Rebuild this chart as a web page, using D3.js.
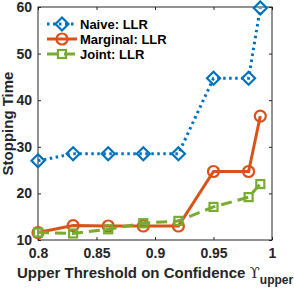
<!DOCTYPE html>
<html>
<head>
<meta charset="utf-8">
<script src="https://cdn.jsdelivr.net/npm/d3@7"></script>
<style>
  body { margin: 0; background: #fff; }
  svg { display: block; font-family: "Liberation Sans", Arial, sans-serif; font-weight: bold; }
</style>
</head>
<body>
<div id="chart"></div>
<script>
// thresholds on x
const thresholds = [0.8, 0.83, 0.86, 0.89, 0.92, 0.95, 0.98, 0.99];
const naive = [27.0, 28.5, 28.5, 28.5, 28.5, 44.7, 44.7, 59.8];
const marginal = [11.6, 13.1, 13.0, 13.0, 13.0, 24.7, 24.7, 36.6];
const joint = [11.6, 11.4, 12.3, 13.6, 14.1, 17.1, 19.2, 22.0];
const xTicks = [0.8, 0.85, 0.9, 0.95, 1];
const yTicks = [10, 20, 30, 40, 50, 60];

const seriesNames = ['Naive: LLR', 'Marginal: LLR', 'Joint: LLR'];
const colors = ['#0072BD', '#D95319', '#77AC30'];

const W = 294, H = 289;
const m = {top: 7, right: 22, bottom: 49, left: 38};

const svg = d3.select('#chart').append('svg')
  .attr('width', W)
  .attr('height', H);

const x = d3.scaleLinear().domain([0.8, 1]).range([m.left, W - m.right]);
const y = d3.scaleLinear().domain([10, 60]).range([H - m.bottom, m.top]);

// box + inward ticks
const axisColor = '#262626';
const tickLen = 3;

svg.append('g')
  .attr('transform', `translate(0,${H - m.bottom})`)
  .call(d3.axisBottom(x).tickValues(xTicks).tickSizeInner(-tickLen).tickSizeOuter(0).tickPadding(8)
    .tickFormat(d => d3.format('')(d)))
  .call(g => g.select('.domain').remove());

svg.append('g')
  .attr('transform', `translate(0,${m.top})`)
  .call(d3.axisTop(x).tickValues(xTicks).tickSizeInner(-tickLen).tickSizeOuter(0).tickFormat(''))
  .call(g => g.select('.domain').remove());

svg.append('g')
  .attr('transform', `translate(${m.left},0)`)
  .call(d3.axisLeft(y).tickValues(yTicks).tickSizeInner(-tickLen).tickSizeOuter(0).tickPadding(6))
  .call(g => g.select('.domain').remove());

svg.append('g')
  .attr('transform', `translate(${W - m.right},0)`)
  .call(d3.axisRight(y).tickValues(yTicks).tickSizeInner(-tickLen).tickSizeOuter(0).tickFormat(''))
  .call(g => g.select('.domain').remove());

svg.selectAll('.tick line').attr('stroke', axisColor);
svg.selectAll('.tick text')
  .attr('fill', axisColor)
  .style('font-size', '14px')
  .style('font-weight', 'bold')
  .style('font-family', '"Liberation Sans", Arial, sans-serif');

svg.append('rect')
  .attr('x', m.left)
  .attr('y', m.top)
  .attr('width', W - m.left - m.right)
  .attr('height', H - m.top - m.bottom)
  .attr('fill', 'none')
  .attr('stroke', axisColor)
  .attr('stroke-width', 1);

// lines
const line = d3.line()
  .x((d, i) => x(thresholds[i]))
  .y(d => y(d));

const series = [
  {name: seriesNames[0], values: naive, color: colors[0], dash: '2.5,3.5', cap: 'butt', marker: 'diamond'},
  {name: seriesNames[1], values: marginal, color: colors[1], dash: null, cap: 'butt', marker: 'circle'},
  {name: seriesNames[2], values: joint, color: colors[2], dash: '11,6', cap: 'butt', marker: 'square'}
];

function drawMarker(g, type, cx, cy, color) {
  if (type === 'diamond') {
    const s = 6.5;
    g.append('path')
      .attr('d', `M${cx},${cy - s}L${cx + s},${cy}L${cx},${cy + s}L${cx - s},${cy}Z`)
      .attr('fill', 'none').attr('stroke', color).attr('stroke-width', 2.2);
  } else if (type === 'circle') {
    g.append('circle')
      .attr('cx', cx).attr('cy', cy).attr('r', 5.5)
      .attr('fill', 'none').attr('stroke', color).attr('stroke-width', 2.2);
  } else {
    const s = 4;
    g.append('rect')
      .attr('x', cx - s).attr('y', cy - s).attr('width', 2 * s).attr('height', 2 * s)
      .attr('fill', 'none').attr('stroke', color).attr('stroke-width', 2.2);
  }
}

series.forEach(s => {
  const g = svg.append('g');
  g.append('path')
    .datum(s.values)
    .attr('d', line)
    .attr('fill', 'none')
    .attr('stroke', s.color)
    .attr('stroke-width', 3)
    .attr('stroke-linecap', s.cap)
    .attr('stroke-dasharray', s.dash);
  s.values.forEach((v, i) => drawMarker(g, s.marker, x(thresholds[i]), y(v), s.color));
});

// legend
const legend = svg.append('g').attr('transform', 'translate(47,24)');
series.forEach((s, i) => {
  const row = legend.append('g').attr('transform', `translate(0,${i * 15})`);
  row.append('line')
    .attr('x1', 0).attr('x2', 30).attr('y1', 0).attr('y2', 0)
    .attr('stroke', s.color).attr('stroke-width', 3)
    .attr('stroke-dasharray', s.dash);
  drawMarker(row, s.marker, 15, 0, s.color);
  row.append('text')
    .attr('x', 33).attr('y', 0).attr('dy', '0.35em')
    .style('font-size', '13px')
    .attr('fill', '#000')
    .text(s.name);
});

// axis labels
svg.append('text')
  .attr('transform', `translate(13,${(m.top + H - m.bottom) / 2}) rotate(-90)`)
  .attr('text-anchor', 'middle')
  .style('font-size', '15px')
  .attr('fill', axisColor)
  .text('Stopping Time');

const xl = svg.append('text')
  .attr('x', 17)
  .attr('y', 278)
  .style('font-size', '15px')
  .attr('fill', axisColor);
xl.append('tspan').text('Upper Threshold on Confidence ');
xl.append('tspan').style('font-weight', 'normal').style('font-family', '"DejaVu Serif", serif').text('ϒ');
xl.append('tspan').attr('dy', 6).style('font-size', '12px').text('upper');
</script>
</body>
</html>
